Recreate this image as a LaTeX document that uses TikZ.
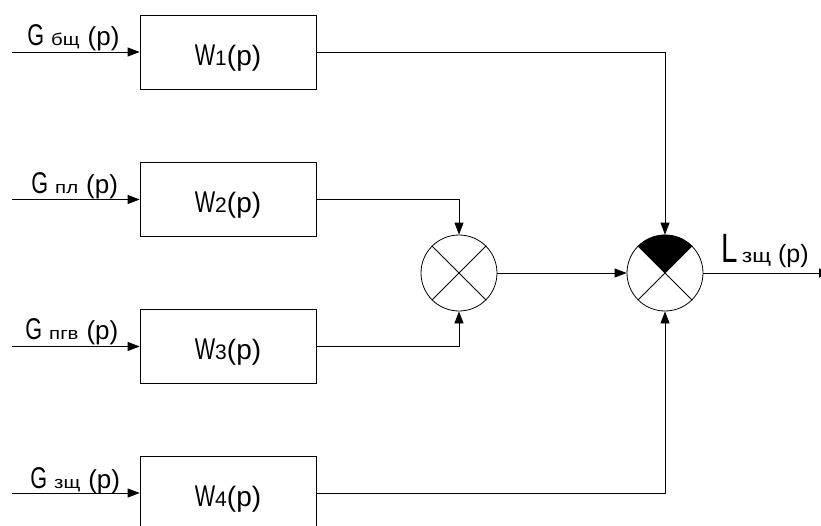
\documentclass[tikz,border=0pt]{standalone}
\usepackage{fontspec}
\setmainfont{Liberation Sans}
\newfontfamily\condf{Liberation Sans}[FakeStretch=0.72]
\newfontfamily\widef{Liberation Sans}[FakeStretch=1.2]
\usetikzlibrary{arrows.meta}
\newcommand{\bigG}{{\condf\fontsize{30}{30}\selectfont G}}
\newcommand{\subtxt}[1]{{\widef\fontsize{17}{17}\selectfont #1}}
\newcommand{\ptxt}[1]{{\fontsize{#1}{#1}\selectfont (p)}}
\newcommand{\wlab}[1]{{\condf\fontsize{30}{30}\selectfont W}{\fontsize{21}{21}\selectfont #1}\ptxt{28}}
\begin{document}
\begin{tikzpicture}[x=1pt,y=-1pt,line width=0.8pt,
  blk/.style={draw,minimum width=176pt,minimum height=74pt,inner sep=0pt},
  sumj/.style={draw,circle,minimum size=76pt,inner sep=0pt},
  arr/.style={-{Triangle[length=12pt,width=9pt]}},
  lbl/.style={inner sep=0pt,anchor=base west},
  wtxt/.style={inner sep=0pt,anchor=base}]
\useasboundingbox (0,0) rectangle (821,525);
\clip (0,0) rectangle (821,525);
% blocks
\node[blk] (w1) at (228,52) {};
\node[blk] (w2) at (228,199.5) {};
\node[blk] (w3) at (228,346.5) {};
\node[blk] (w4) at (228,493) {};
\node[wtxt] (t1) at ([yshift=-13pt]w1.center) {\wlab{1}};
\node[wtxt] (t2) at ([yshift=-13pt]w2.center) {\wlab{2}};
\node[wtxt] (t3) at ([yshift=-13pt]w3.center) {\wlab{3}};
\node[wtxt] (t4) at ([yshift=-13pt]w4.center) {\wlab{4}};
% summing junctions
\node[sumj] (s1) at (459,273) {};
\node[sumj] (s2) at (665,273) {};
\fill (s2.center) -- (s2.45) arc[start angle=45,end angle=135,radius=38pt] -- cycle;
\draw (s1.45) -- (s1.225);
\draw (s1.135) -- (s1.315);
\draw (s2.45) -- (s2.225);
\draw (s2.135) -- (s2.315);
% inputs
\coordinate (i1) at (12,52);
\coordinate (i2) at (12,199.5);
\coordinate (i3) at (12,346.5);
\coordinate (i4) at (12,493);
\draw[arr] (i1) -- (w1.west);
\draw[arr] (i2) -- (w2.west);
\draw[arr] (i3) -- (w3.west);
\draw[arr] (i4) -- (w4.west);
\node[lbl] (g1) at (27,45) {\bigG\hspace{7pt}\subtxt{бщ}\hspace{8pt}\ptxt{26}};
\node[lbl] (g2) at (31,193) {\bigG\hspace{7pt}\subtxt{пл}\hspace{8pt}\ptxt{26}};
\node[lbl] (g3) at (25,339) {\bigG\hspace{7pt}\subtxt{пгв}\hspace{8pt}\ptxt{26}};
\node[lbl] (g4) at (30,488) {\bigG\hspace{7pt}\subtxt{зщ}\hspace{8pt}\ptxt{26}};
% connections
\draw[arr] (w1.east) -- (w1.east -| s2.north) -- (s2.north);
\draw[arr] (w2.east) -| (s1.north);
\draw[arr] (w3.east) -| (s1.south);
\draw[arr] (w4.east) -| (s2.south);
\draw[arr] (s1.east) -- (s2.west);
\coordinate (out) at (831,273);
\draw[arr] (s2.east) -- (out);
\node[lbl] (lo) at (721,262) {{\condf\fontsize{41}{41}\selectfont L}\hspace{4pt}{\widef\fontsize{19}{19}\selectfont зщ}\hspace{7pt}\ptxt{25}};
\end{tikzpicture}
\end{document}
